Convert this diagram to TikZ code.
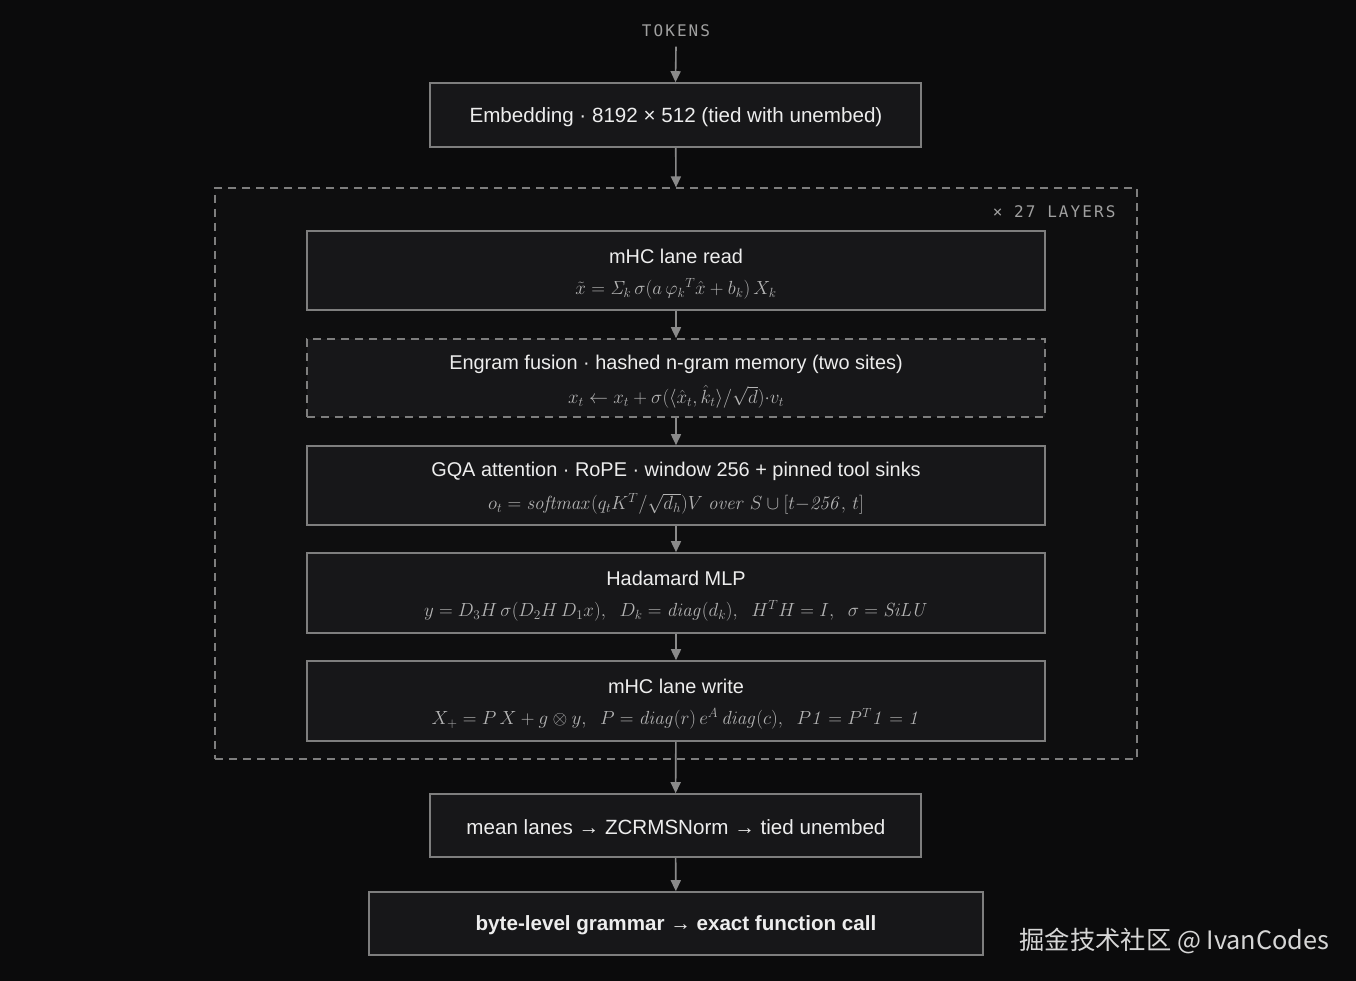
\documentclass[tikz,border=0pt]{standalone}
\usepackage{fix-cm}
\usepackage[no-math]{fontspec}
\setmainfont{Liberation Sans}
\newfontfamily\monolabel[LetterSpace=13]{DejaVu Sans Mono}
\newfontfamily\cjk{Noto Sans CJK SC}
\usetikzlibrary{arrows.meta}

\definecolor{bgcol}{HTML}{0B0B0C}
\definecolor{layercol}{HTML}{0E0E0F}
\definecolor{boxcol}{HTML}{171719}
\definecolor{edgecol}{HTML}{7E7E7E}
\definecolor{arrowcol}{HTML}{8A8A8A}
\definecolor{titlecol}{HTML}{EDEDED}
\definecolor{formcol}{HTML}{B4B4B4}
\definecolor{labelcol}{HTML}{A0A0A0}
\definecolor{wmcol}{HTML}{D6D6D6}
\newcommand{\gap}{,\hspace{0.55em}}

\begin{document}
\begin{tikzpicture}[x=1pt, y=-1pt,
  box/.style={draw=edgecol, line width=1.6pt, fill=boxcol, inner sep=0pt},
  dbox/.style={box, dash pattern=on 8pt off 6pt},
  title/.style={text=titlecol, font=\fontsize{20.6}{24}\selectfont},
  ltitle/.style={text=titlecol, font=\fontsize{19.9}{24}\selectfont},
  formula/.style={text=formcol, font=\fontsize{19}{23}\selectfont},
  tag/.style={text=labelcol, font=\monolabel\fontsize{16}{20}\selectfont},
  flow/.style={draw=arrowcol, line width=1.6pt, -{Triangle[width=10pt,length=11pt]}}]
\useasboundingbox[fill=bgcol] (0,0) rectangle (1356,981);

% repeated layer block
\node[draw=edgecol, line width=1.2pt, dash pattern=on 8pt off 6pt, fill=layercol,
  minimum width=922pt, minimum height=571pt, inner sep=0pt] (layers) at (676,473.5) {};
\node[tag, anchor=east] (count) at (1119,212) {× 27 LAYERS};

\node[tag] (tokens) at (676,31) {TOKENS};
\node[box, minimum width=491pt, minimum height=64pt] (embed) at (675.5,115) {};
\node[title] (embedtext) at (676,117) {Embedding · 8192 × 512 (tied with unembed)};

\node[box, minimum width=738pt, minimum height=79pt] (read) at (676,270.5) {};
\node[ltitle] (readtitle) at (676,256) {mHC lane read};
\node[formula] (readmath) at (676,289) {$\tilde{x} = \mathit{\Sigma}_k\, \sigma(a\,\varphi_k{}^{T}\hat{x} + b_k)\, X_k$};

\node[dbox, minimum width=738pt, minimum height=78pt] (engram) at (676,378) {};
\node[ltitle] (engramtitle) at (676,364) {Engram fusion · hashed n-gram memory (two sites)};
\node[formula] (engrammath) at (676,397) {$x_t \leftarrow x_t + \sigma(\langle \hat{x}_t, \hat{k}_t\rangle/\sqrt{d}){\cdot}v_t$};

\node[box, minimum width=738pt, minimum height=79pt] (attn) at (676,485.5) {};
\node[ltitle] (attntitle) at (676,471) {GQA attention · RoPE · window 256 + pinned tool sinks};
\node[formula] (attnmath) at (676,504) {$o_t = \mathit{softmax}(q_tK^T/\sqrt{d_h})V\ \mathit{over}\ S \cup [t{-}\mathit{256},\, t]$};

\node[box, minimum width=738pt, minimum height=80pt] (mlp) at (676,593) {};
\node[ltitle] (mlptitle) at (676,578) {Hadamard MLP};
\node[formula] (mlpmath) at (676,611) {$y = D_3H\,\sigma(D_2H\,D_1x)\gap D_k = \mathit{diag}(d_k)\gap H^TH = I\gap \sigma = \mathit{SiLU}$};

\node[box, minimum width=738pt, minimum height=80pt] (write) at (676,701) {};
\node[ltitle] (writetitle) at (676,686) {mHC lane write};
\node[formula] (writemath) at (676,719) {$X_+ = P\,X + g\otimes y\gap P = \mathit{diag}(r)\,e^A\,\mathit{diag}(c)\gap P\mathit{1} = P^T\mathit{1} = \mathit{1}$};

\node[box, minimum width=491pt, minimum height=63pt] (norm) at (675.5,825.5) {};
\node[title] (normtext) at (676,827.5) {mean lanes → ZCRMSNorm → tied unembed};
\node[box, minimum width=614pt, minimum height=63pt] (grammar) at (676,923.5) {};
\node[title, font=\bfseries\fontsize{20.6}{24}\selectfont] (grammartext) at (676,925.5) {byte-level grammar → exact function call};

\node[anchor=west, text=wmcol, font=\cjk\fontsize{25.3}{30}\selectfont] (credit) at (1016,941) {掘金技术社区 @ IvanCodes};

\path[flow] (tokens.south) ++(0,6) -- (embed.north);
\path[flow] (embed) -- (layers.north);
\path[flow] (read) -- (engram);
\path[flow] (engram) -- (attn);
\path[flow] (attn) -- (mlp);
\path[flow] (mlp) -- (write);
\path[flow] (write) -- (norm);
\path[flow] (norm) -- (grammar);
\end{tikzpicture}
\end{document}
